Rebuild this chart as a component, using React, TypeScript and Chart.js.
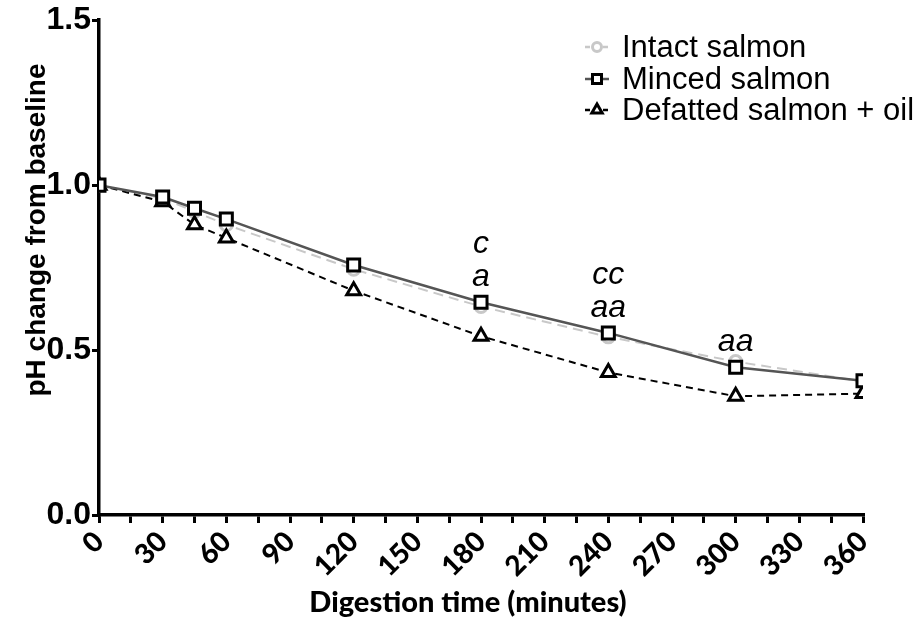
import React, { useEffect, useRef } from "react";
import { Chart, registerables } from "chart.js";

Chart.register(...registerables);

const times = [0, 30, 45, 60, 120, 180, 240, 300, 360];
const intactSalmon = [1.0, 0.96, 0.92, 0.88, 0.745, 0.632, 0.54, 0.465, 0.405];
const mincedSalmon = [1.0, 0.964, 0.93, 0.897, 0.758, 0.645, 0.552, 0.448, 0.407];
const defattedSalmon = [1.0, 0.95, 0.88, 0.84, 0.68, 0.542, 0.432, 0.36, 0.368];

const seriesNames = ["Intact salmon", "Minced salmon", "Defatted salmon + oil"];

const annotationTimes = [180, 240, 300];
const annotationUpper = ["c", "cc", ""];
const annotationLower = ["a", "aa", "aa"];

const xTitle = "Digestion time (minutes)";
const yTitle = "pH change from baseline";

const INTACT_COLOR = "#c8c8c8";
const MINCED_LINE = "#555555";
const BLACK = "#000000";

function drawMarker(ctx: CanvasRenderingContext2D, style: string, x: number, y: number, r: number, color: string, lw: number) {
  ctx.save();
  ctx.setLineDash([]);
  ctx.strokeStyle = color;
  ctx.fillStyle = "#ffffff";
  ctx.lineWidth = lw;
  ctx.beginPath();
  if (style === "circle") {
    ctx.arc(x, y, r, 0, Math.PI * 2);
  } else if (style === "rect") {
    const s = Math.SQRT1_2 * r;
    ctx.rect(x - s, y - s, 2 * s, 2 * s);
  } else {
    ctx.moveTo(x, y - r);
    ctx.lineTo(x + r * 0.866, y + r * 0.5);
    ctx.lineTo(x - r * 0.866, y + r * 0.5);
    ctx.closePath();
  }
  ctx.fill();
  ctx.stroke();
  ctx.restore();
}

const decorPlugin = {
  id: "decor",
  afterDraw(chart: any) {
    const ctx: CanvasRenderingContext2D = chart.ctx;
    const xs = chart.scales.x;
    const ys = chart.scales.y;
    ctx.save();

    // annotations
    ctx.fillStyle = BLACK;
    ctx.font = "italic 32px 'Liberation Sans', Arial, sans-serif";
    ctx.textAlign = "center";
    ctx.textBaseline = "middle";
    annotationTimes.forEach((t, i) => {
      const idx = times.indexOf(t);
      const px = xs.getPixelForValue(t);
      const py = ys.getPixelForValue(mincedSalmon[idx]);
      const lowerY = py - 25;
      if (annotationLower[i]) ctx.fillText(annotationLower[i], px, lowerY);
      if (annotationUpper[i]) ctx.fillText(annotationUpper[i], px, lowerY - 33);
    });

    // legend
    const ds = chart.data.datasets;
    const lx = 597;
    const ly = [47, 79, 110];
    ds.forEach((d: any, i: number) => {
      const y = ly[i];
      ctx.save();
      ctx.strokeStyle = d.borderColor;
      ctx.lineWidth = 2.5;
      ctx.setLineDash(i === 1 ? [] : [5, 4]);
      ctx.beginPath();
      ctx.moveTo(lx - 12, y);
      ctx.lineTo(lx + 12, y);
      ctx.stroke();
      ctx.restore();
      drawMarker(ctx, d.pointStyle, lx, y, d.pointRadius * 0.75, d.pointBorderColor, 3);
      ctx.fillStyle = BLACK;
      ctx.font = "31px 'Liberation Sans', Arial, sans-serif";
      ctx.textAlign = "left";
      ctx.textBaseline = "middle";
      ctx.fillText(seriesNames[i], 622, y + 1);
    });

    // axis titles
    ctx.fillStyle = BLACK;
    ctx.font = "900 29px Lato, 'Open Sans', sans-serif";
    ctx.textAlign = "center";
    ctx.textBaseline = "middle";
    ctx.fillText(xTitle, 468, 603);

    ctx.save();
    ctx.translate(37, 230);
    ctx.rotate(-Math.PI / 2);
    ctx.font = "bold 28px 'Liberation Sans', Arial, sans-serif";
    ctx.fillText(yTitle, 0, 0);
    ctx.restore();

    ctx.restore();
  },
};

export default function App() {
  const ref = useRef<HTMLCanvasElement | null>(null);
  useEffect(() => {
    if (!ref.current) return;
    const mk = (arr: number[]) => times.map((t, i) => ({ x: t, y: arr[i] }));
    const chart = new Chart(ref.current, {
      type: "line",
      data: {
        datasets: [
          {
            label: seriesNames[0],
            data: mk(intactSalmon),
            borderColor: INTACT_COLOR,
            borderWidth: 2,
            borderDash: [10, 6],
            pointStyle: "circle",
            pointRadius: 6,
            pointBorderColor: INTACT_COLOR,
            pointBackgroundColor: "#ffffff",
            pointBorderWidth: 3,
            order: 3,
          },
          {
            label: seriesNames[1],
            data: mk(mincedSalmon),
            borderColor: MINCED_LINE,
            borderWidth: 2.5,
            pointStyle: "rect",
            pointRadius: 8.5,
            pointBorderColor: BLACK,
            pointBackgroundColor: "#ffffff",
            pointBorderWidth: 3,
            order: 1,
          },
          {
            label: seriesNames[2],
            data: mk(defattedSalmon),
            borderColor: BLACK,
            borderWidth: 2,
            borderDash: [7, 5],
            pointStyle: "triangle",
            pointRadius: 8,
            pointBorderColor: BLACK,
            pointBackgroundColor: "#ffffff",
            pointBorderWidth: 3,
            order: 2,
          },
        ],
      },
      options: {
        responsive: false,
        animation: false,
        layout: { padding: { top: 20, right: 61, left: 0, bottom: 0 } },
        plugins: { legend: { display: false }, tooltip: { enabled: false } },
        scales: {
          x: {
            type: "linear",
            min: 0,
            max: 360,
            afterFit: (s: any) => {
              s.height = 110;
            },
            ticks: {
              stepSize: 15,
              autoSkip: false,
              maxRotation: 45,
              minRotation: 45,
              color: BLACK,
              padding: 2,
              font: { family: "Lato, 'Open Sans', sans-serif", size: 28, weight: "900" },
              callback: (v: any) => (Number(v) % 30 === 0 ? String(v) : ""),
            },
            grid: { drawOnChartArea: false, drawTicks: true, tickLength: 8, color: BLACK, lineWidth: 3 },
            border: { display: true, color: BLACK, width: 3.5 },
          },
          y: {
            min: 0,
            max: 1.5,
            afterFit: (s: any) => {
              s.width = 99;
            },
            ticks: {
              stepSize: 0.5,
              color: BLACK,
              padding: 1,
              font: { family: "'Liberation Sans', Arial, sans-serif", size: 32, weight: "bold" },
              callback: (v: any) => Number(v).toFixed(1),
            },
            grid: { drawOnChartArea: false, drawTicks: true, tickLength: 7, color: BLACK, lineWidth: 3 },
            border: { display: true, color: BLACK, width: 3.5 },
          },
        },
      },
      plugins: [decorPlugin],
    } as any);
    return () => chart.destroy();
  }, []);
  return (
    <div style={{ position: "fixed", left: 0, top: 0, width: 924, height: 625, background: "#fff" }}>
      <canvas ref={ref} width={924} height={625} style={{ width: 924, height: 625 }} />
    </div>
  );
}
